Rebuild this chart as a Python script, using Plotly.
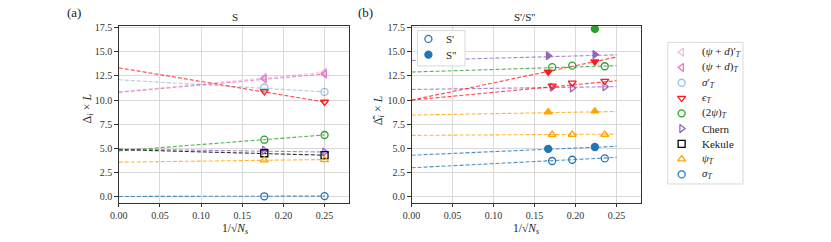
import plotly.graph_objects as go

# ---------------- data ----------------
# panel (a): S sector
xa = [0.1768, 0.25]
a_names = ["(<i>ψ</i> + <i>d</i>)′<sub><i>T</i></sub>", "(<i>ψ</i> + <i>d</i>)<sub><i>T</i></sub>",
           "<i>σ</i>′<sub><i>T</i></sub>", "<i>ϵ</i><sub><i>T</i></sub>", "(2<i>ψ</i>)<sub><i>T</i></sub>",
           "Chern", "Kekule", "<i>ψ</i><sub><i>T</i></sub>", "<i>σ</i><sub><i>T</i></sub>"]
a_vals = [
    [12.35, 12.87],
    [12.2, 12.7],
    [11.3, 10.85],
    [10.9, 9.8],
    [5.9, 6.39],
    [4.8, 4.63],
    [4.5, 4.3],
    [3.8, 3.82],
    [0.05, 0.07],
]
a_fit0 = [10.85, 10.8, 12.1, 13.34, 4.75, 4.93, 4.87, 3.58, 0.03]
a_fit1 = [12.87, 12.7, 10.85, 9.8, 6.39, 4.63, 4.3, 3.85, 0.07]

# panel (b): S' / S'' sectors
xb_p = [0.1715, 0.196, 0.2357]
xb_pp = [0.1667, 0.2236]
b_p_vals = {
    "sigma": [3.7, 3.83, 3.97],
    "psi": [6.44, 6.44, 6.44],
    "chern": [11.32, 11.26, 11.39],
    "eps": [11.46, 11.77, 11.97],
    "2psi": [13.4, 13.56, 13.5],
}
b_p_fit0 = {"sigma": 3.0, "psi": 6.35, "chern": 11.1, "eps": 10.0, "2psi": 12.9}
b_p_fit1 = {"sigma": 4.07, "psi": 6.48, "chern": 11.39, "eps": 12.0, "2psi": 13.56}
b_pp_vals = {
    "sigma": [4.95, 5.15],
    "psi": [8.75, 8.85],
    "eps": [12.92, 13.97],
    "chern": [14.58, 14.72],
    "2psi": [None, 17.36],
}
b_pp_fit0 = {"sigma": 4.3, "psi": 8.45, "eps": 10.0, "chern": 14.1}
b_pp_fit1 = {"sigma": 5.22, "psi": 8.82, "eps": 14.45, "chern": 14.68}
fit_x = [0.0, 0.25]
b_legend_names = ["S'", 'S"']

# ---------------- styles ----------------
a_colors = ["rgba(227,119,194,0.5)", "#e377c2", "rgba(31,119,180,0.45)", "#ff1a1a", "#2ca02c",
            "#9467bd", "#000000", "#ffa500", "#1f77b4"]
a_symbols = ["triangle-left-open", "triangle-left-open", "circle-open", "triangle-down-open",
             "circle-open", "triangle-right-open", "square-open", "triangle-up-open", "circle-open"]
b_colors = {"sigma": "#1f77b4", "psi": "#ffa500", "chern": "#9467bd", "eps": "#ff1a1a", "2psi": "#2ca02c"}
b_symbols = {"sigma": "circle", "psi": "triangle-up", "chern": "triangle-right",
             "eps": "triangle-down", "2psi": "circle"}

FONT = "Liberation Serif"
TXT = "#222222"
fig = go.Figure()

MS = 7
MLW = 1.3
for i in range(len(a_names)):
    fig.add_trace(go.Scatter(x=fit_x, y=[a_fit0[i], a_fit1[i]], mode="lines",
                             line=dict(color=a_colors[i], width=1.1, dash="4px,2px"),
                             opacity=0.8, showlegend=False, hoverinfo="skip",
                             xaxis="x", yaxis="y"))
for i in range(len(a_names)):
    fig.add_trace(go.Scatter(x=xa, y=a_vals[i], mode="markers", name=a_names[i], showlegend=False,
                             marker=dict(symbol=a_symbols[i], color=a_colors[i], size=MS,
                                         line=dict(width=MLW)),
                             xaxis="x", yaxis="y"))

# panel b lines
for k in b_p_fit0:
    fig.add_trace(go.Scatter(x=fit_x, y=[b_p_fit0[k], b_p_fit1[k]], mode="lines",
                             line=dict(color=b_colors[k], width=1.1, dash="4px,2px"),
                             opacity=0.8, showlegend=False, hoverinfo="skip",
                             xaxis="x2", yaxis="y2"))
for k in b_pp_fit0:
    fig.add_trace(go.Scatter(x=fit_x, y=[b_pp_fit0[k], b_pp_fit1[k]], mode="lines",
                             line=dict(color=b_colors[k], width=1.1, dash="4px,2px"),
                             opacity=0.8, showlegend=False, hoverinfo="skip",
                             xaxis="x2", yaxis="y2"))
for k, v in b_p_vals.items():
    fig.add_trace(go.Scatter(x=xb_p, y=v, mode="markers", showlegend=False, name="S' " + k,
                             marker=dict(symbol=b_symbols[k] + "-open", color=b_colors[k], size=MS,
                                         line=dict(width=MLW)),
                             xaxis="x2", yaxis="y2"))
for k, v in b_pp_vals.items():
    fig.add_trace(go.Scatter(x=xb_pp, y=v, mode="markers", showlegend=False, name='S" ' + k,
                             marker=dict(symbol=b_symbols[k], color=b_colors[k], size=MS,
                                         line=dict(width=MLW, color=b_colors[k])),
                             xaxis="x2", yaxis="y2"))

# ---------------- legends (compact, matplotlib-like rows) ----------------
rows_a = list(range(len(a_names)))
for i in rows_a:
    fig.add_trace(go.Scatter(x=[680], y=[i], mode="markers", showlegend=False, hoverinfo="skip",
                             marker=dict(symbol=a_symbols[i], color=a_colors[i], size=MS,
                                         line=dict(width=MLW)),
                             xaxis="x3", yaxis="y3"))
fig.add_trace(go.Scatter(x=[424], y=[0], mode="markers", showlegend=False, hoverinfo="skip",
                         marker=dict(symbol="circle-open", color="#1f77b4", size=MS, line=dict(width=MLW)),
                         xaxis="x4", yaxis="y4"))
fig.add_trace(go.Scatter(x=[424], y=[1], mode="markers", showlegend=False, hoverinfo="skip",
                         marker=dict(symbol="circle", color="#1f77b4", size=MS,
                                     line=dict(width=MLW, color="#1f77b4")),
                         xaxis="x4", yaxis="y4"))

ydom = [40 / 242, 220 / 242]
axis_common = dict(showline=True, linecolor="#333333", linewidth=1, mirror=True,
                   ticks="outside", ticklen=3.5, tickwidth=0.8, tickcolor="#333333",
                   showgrid=True, gridcolor="#d9d9d9", gridwidth=1, zeroline=False,
                   tickfont=dict(family=FONT, size=10, color="#333333"))
xcommon = dict(axis_common, range=[0, 0.28], tickvals=[0, 0.05, 0.1, 0.15, 0.2, 0.25],
               tickformat=".2f")
ycommon = dict(axis_common, range=[-0.61, 17.70], tickvals=[0, 2.5, 5, 7.5, 10, 12.5, 15, 17.5],
               tickformat=".1f")
hidden = dict(visible=False, showgrid=False, zeroline=False, fixedrange=True)


def pann(text, px, py, size=11, angle=0, xanchor="center"):
    return dict(text=text, x=px / 831, y=1 - py / 242, xref="paper", yref="paper",
                showarrow=False, font=dict(size=size, family=FONT, color=TXT),
                xanchor=xanchor, yanchor="middle", textangle=angle)


annotations = [
    pann("(a)", 66, 9, 13),
    pann("(b)", 360, 9, 13),
    pann("S", 228, 13, 11),
    pann("S'/S''", 521, 13, 11),
    pann("1/√<i>N</i><sub><i>s</i></sub>", 228, 229, 11.5),
    pann("1/√<i>N</i><sub><i>s</i></sub>", 523, 229, 11.5),
    pann("Δ<sub><i>i</i></sub> × <i>L</i>", 80, 106, 12, -90),
    pann("Δ̂<sub><i>i</i></sub> × <i>L</i>", 374, 108, 12, -90),
]
for i in rows_a:
    annotations.append(dict(text=a_names[i], x=699, y=i, xref="x3", yref="y3", showarrow=False,
                            xanchor="left", yanchor="middle",
                            font=dict(size=11, family=FONT, color=TXT)))
for i, nm in enumerate(b_legend_names):
    annotations.append(dict(text=nm, x=440, y=i, xref="x4", yref="y4", showarrow=False,
                            xanchor="left", yanchor="middle",
                            font=dict(size=11, family=FONT, color=TXT)))

# legend frames (border only, drawn on top)
shapes = [
    dict(type="rect", xref="paper", yref="paper", x0=666 / 831, x1=742 / 831,
         y0=1 - 183 / 242, y1=1 - 39 / 242, line=dict(color="#d8d8d8", width=1),
         fillcolor="rgba(0,0,0,0)", layer="above"),
    dict(type="rect", xref="paper", yref="paper", x0=413 / 831, x1=461 / 831,
         y0=1 - 63 / 242, y1=1 - 27 / 242, line=dict(color="#d8d8d8", width=1),
         fillcolor="rgba(0,0,0,0)", layer="above"),
]

fig.update_layout(
    width=831, height=242,
    margin=dict(l=0, r=0, t=0, b=0),
    paper_bgcolor="white", plot_bgcolor="white",
    font=dict(family=FONT, size=11, color=TXT),
    showlegend=False,
    xaxis=dict(xcommon, domain=[111 / 831, 344 / 831], anchor="y"),
    yaxis=dict(ycommon, domain=ydom, anchor="x"),
    xaxis2=dict(xcommon, domain=[407 / 831, 639 / 831], anchor="y2"),
    yaxis2=dict(ycommon, domain=ydom, anchor="x2"),
    xaxis3=dict(hidden, domain=[666 / 831, 742 / 831], range=[666, 742], anchor="y3"),
    yaxis3=dict(hidden, domain=[1 - 183 / 242, 1 - 39 / 242],
                range=[8 + (183 - 173.3) / 15.54, -(49 - 39) / 15.54], anchor="x3"),
    xaxis4=dict(hidden, domain=[413 / 831, 461 / 831], range=[413, 461], anchor="y4"),
    yaxis4=dict(hidden, domain=[1 - 63 / 242, 1 - 27 / 242],
                range=[1 + (63 - 51.5) / 16, -(35.5 - 27) / 16], anchor="x4"),
    annotations=annotations,
    shapes=shapes,
)

fig.write_html("out.html", config={"displayModeBar": False},
               post_script="document.body.style.margin='0px';")
